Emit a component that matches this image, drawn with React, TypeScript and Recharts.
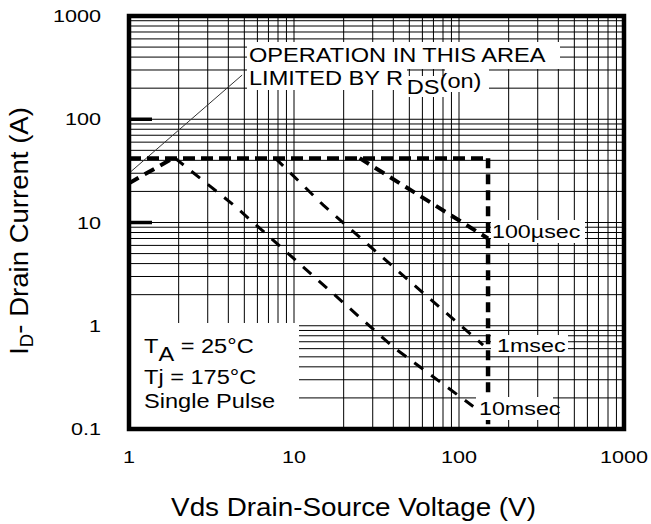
import { LineChart, Line, XAxis, YAxis, CartesianGrid } from "recharts";

const W = 651;
const H = 524;
const FONT = "'Liberation Sans', Arial, Helvetica, sans-serif";

// plot frame in page pixels
const PLOT = { left: 129, top: 16, right: 624, bottom: 429 };
const Y_AXIS_W = 60;
const X_AXIS_H = 40;

// log grid
const STEPS = [1, 2, 3, 4, 5, 6, 7, 8, 9];
const X_DECADES = [1, 10, 100];
const Y_DECADES = [0.1, 1, 10, 100];
const X_LABELS = [1, 10, 100, 1000];
const Y_LABELS = [0.1, 1, 10, 100, 1000];
const Y_MAJOR = [10, 100, 1000];
const Y_MIN = 0.1;
const Y_MAX = 1000;

const X_GRID = [...X_DECADES.flatMap((d) => STEPS.map((s) => +(d * s).toPrecision(3))), 1000];
const Y_GRID = [...Y_DECADES.flatMap((d) => STEPS.map((s) => +(d * s).toPrecision(3))), 1000];

// series: v = Vds (V), i = Id (A)
const CURRENT_LIMIT = [
  { v: 1, i: 42 },
  { v: 150, i: 42 },
];
const VOLTAGE_LIMIT = [
  { v: 150, i: 42 },
  { v: 150, i: 0.11 },
];
const RDS_LIMIT = [
  { v: 1, i: 24 },
  { v: 1.85, i: 42 },
];
const LEADER = [
  { v: 1, i: 30 },
  { v: 4.85, i: 268 },
];
const PULSE_100US = [
  { v: 25, i: 42 },
  { v: 150, i: 7 },
];
const PULSE_1MS = [
  { v: 7.7, i: 42 },
  { v: 15, i: 14.8 },
  { v: 42, i: 3.47 },
  { v: 140, i: 0.65 },
];
const PULSE_10MS = [
  { v: 1.9, i: 42 },
  { v: 4.3, i: 14.8 },
  { v: 40, i: 0.62 },
  { v: 122, i: 0.165 },
];

const isIn = (list: number[], v: number) => list.some((l) => Math.abs(l - v) < 1e-9);

function SText({
  x,
  y,
  sx = 1,
  size,
  anchor = "start",
  children,
}: {
  x: number;
  y: number;
  sx?: number;
  size: number;
  anchor?: "start" | "middle" | "end";
  children: React.ReactNode;
}) {
  return (
    <g transform={`translate(${x} ${y}) scale(${sx} 1)`}>
      <text x={0} y={0} fontSize={size} textAnchor={anchor} fontFamily={FONT} fill="#000">
        {children}
      </text>
    </g>
  );
}

const XTick = (props: any) => {
  const { x, payload } = props;
  if (!isIn(X_LABELS, payload.value)) return <g />;
  return (
    <SText x={x} y={PLOT.bottom + 34} sx={1.27} size={17} anchor="middle">
      {String(payload.value)}
    </SText>
  );
};

const YTick = (props: any) => {
  const { y, payload } = props;
  if (!isIn(Y_LABELS, payload.value)) return <g />;
  return (
    <SText x={PLOT.left - 28} y={y + 6} sx={1.27} size={17} anchor="end">
      {String(payload.value)}
    </SText>
  );
};

// white backgrounds behind the annotations
const BOXES = [
  { x: 247, y: 42, w: 313, h: 27 },
  { x: 247, y: 69, w: 160, h: 21 },
  { x: 407, y: 76, w: 38, h: 21 },
  { x: 445, y: 69, w: 44, h: 23 },
  { x: 131, y: 323, w: 168, h: 104 },
  { x: 491, y: 220, w: 94, h: 23 },
  { x: 491, y: 335, w: 77, h: 21 },
  { x: 476, y: 397, w: 77, h: 23 },
];

export default function App() {
  const pw = PLOT.right - PLOT.left;
  const ph = PLOT.bottom - PLOT.top;
  // same log mapping as the y axis, for the bold inner decade ticks
  const yPix = (v: number) =>
    PLOT.top + (ph * Math.log10(Y_MAX / v)) / Math.log10(Y_MAX / Y_MIN);
  return (
    <div style={{ position: "absolute", left: 0, top: 0, width: W, height: H, background: "#fff" }}>
      <LineChart
        width={W}
        height={H}
        margin={{
          top: PLOT.top,
          right: W - PLOT.right,
          bottom: H - PLOT.bottom - X_AXIS_H,
          left: PLOT.left - Y_AXIS_W,
        }}
      >
        <CartesianGrid stroke="#000" strokeWidth={1} />
        <XAxis
          type="number"
          dataKey="v"
          scale="log"
          domain={[1, 1000]}
          ticks={X_GRID}
          interval={0}
          allowDataOverflow
          axisLine={false}
          tickLine={false}
          height={X_AXIS_H}
          tick={XTick}
        />
        <YAxis
          type="number"
          dataKey="i"
          scale="log"
          domain={[Y_MIN, Y_MAX]}
          ticks={Y_GRID}
          interval={0}
          allowDataOverflow
          axisLine={false}
          tickLine={false}
          width={Y_AXIS_W}
          tick={YTick}
        />
        <Line data={LEADER} dataKey="i" type="linear" stroke="#333" strokeWidth={1} dot={false} isAnimationActive={false} />
        <Line data={CURRENT_LIMIT} dataKey="i" type="linear" stroke="#000" strokeWidth={4} strokeDasharray="12 6" dot={false} isAnimationActive={false} />
        <Line data={VOLTAGE_LIMIT} dataKey="i" type="linear" stroke="#000" strokeWidth={4.5} strokeDasharray="10 6" dot={false} isAnimationActive={false} />
        <Line data={RDS_LIMIT} dataKey="i" type="linear" stroke="#000" strokeWidth={4} strokeDasharray="11 7" dot={false} isAnimationActive={false} />
        <Line data={PULSE_100US} dataKey="i" type="linear" stroke="#000" strokeWidth={4} strokeDasharray="11 7" dot={false} isAnimationActive={false} />
        <Line data={PULSE_1MS} dataKey="i" type="linear" stroke="#000" strokeWidth={3} strokeDasharray="11 10" dot={false} isAnimationActive={false} />
        <Line data={PULSE_10MS} dataKey="i" type="linear" stroke="#000" strokeWidth={3} strokeDasharray="11 10" dot={false} isAnimationActive={false} />
      </LineChart>

      <svg
        width={W}
        height={H}
        style={{ position: "absolute", left: 0, top: 0, pointerEvents: "none" }}
      >
        {BOXES.map((b, k) => (
          <rect key={k} x={b.x} y={b.y} width={b.w} height={b.h} fill="#fff" />
        ))}
        {Y_MAJOR.map((v) => (
          <line
            key={v}
            x1={PLOT.left}
            x2={PLOT.left + 23}
            y1={yPix(v)}
            y2={yPix(v)}
            stroke="#000"
            strokeWidth={3.5}
          />
        ))}
        <rect x={PLOT.left} y={PLOT.top} width={pw} height={ph} fill="none" stroke="#000" strokeWidth={4.5} />

        <SText x={249} y={62} sx={1.21} size={19.5}>OPERATION IN THIS AREA</SText>
        <SText x={249} y={85} sx={1.21} size={19.5}>
          LIMITED BY R
          <tspan dx={3} dy={9}>DS</tspan>
          <tspan dy={-6}>(on)</tspan>
        </SText>

        <SText x={144} y={353} sx={1.21} size={19.5}>
          T<tspan dy={8}>A</tspan>
          <tspan dy={-8}> = 25°C</tspan>
        </SText>
        <SText x={144} y={384} sx={1.21} size={19.5}>Tj = 175°C</SText>
        <SText x={144} y={408} sx={1.21} size={19.5}>Single Pulse</SText>

        <SText x={492} y={238} sx={1.33} size={17.5}>100µsec</SText>
        <SText x={497} y={352} sx={1.33} size={17.5}>1msec</SText>
        <SText x={479} y={415} sx={1.33} size={17.5}>10msec</SText>

        <g transform="translate(28 231) rotate(-90) scale(1.04 1)">
          <text x={0} y={0} fontSize={26.5} textAnchor="middle" fontFamily={FONT} fill="#000">
            I<tspan dy={5} fontSize={18}>D</tspan>
            <tspan dy={-5}>- Drain Current (A)</tspan>
          </text>
        </g>
        <SText x={353.5} y={516} sx={1.05} size={26.5} anchor="middle">
          Vds Drain-Source Voltage (V)
        </SText>
      </svg>
    </div>
  );
}
